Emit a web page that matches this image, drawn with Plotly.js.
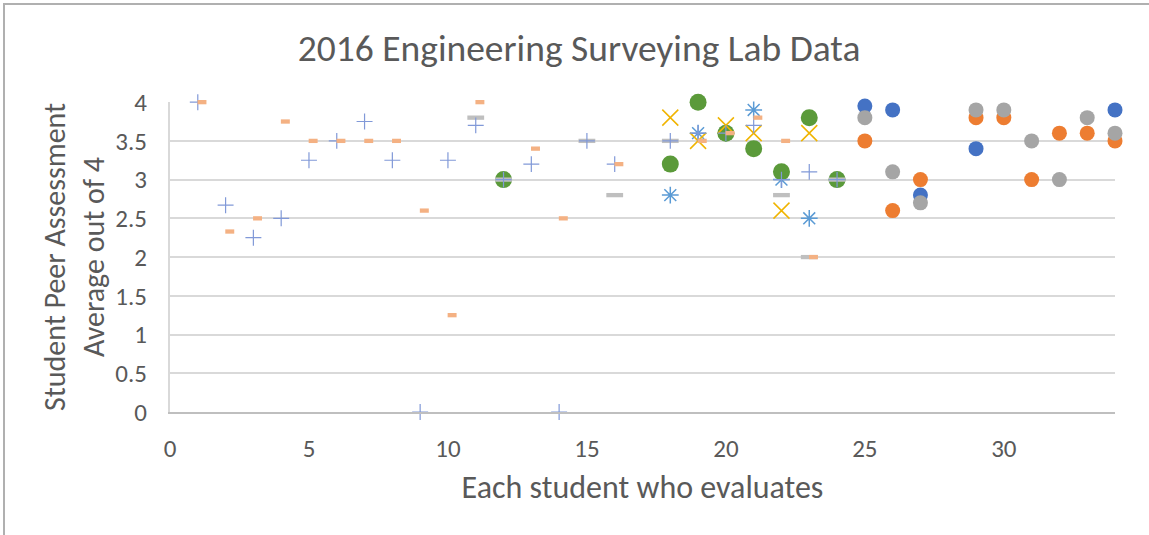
<!DOCTYPE html>
<html>
<head>
<meta charset="utf-8">
<script src="https://cdn.plot.ly/plotly-3.0.1.min.js"></script>
<style>
  html, body { margin: 0; padding: 0; background: #ffffff; }
  #wrap { position: relative; width: 1149px; height: 535px; overflow: hidden; }
  #chart { position: absolute; left: 0; top: 0; width: 1149px; height: 535px; }
  #frame { position: absolute; left: 3px; top: 3px; width: 1150px; height: 540px;
           border-top: 2px solid #B0B0B0; border-left: 2px solid #B0B0B0; pointer-events: none; }
</style>
</head>
<body>
<div id="wrap"><div id="chart"></div><div id="frame"></div></div>
<script>
// ---- data ----
const plusX = [1,2,3,4,5,6,7,8,9,10,11,12,13,14,15,16,18,19,20,21,22,23,24];
const plusY = [4,2.67,2.25,2.5,3.25,3.5,3.75,3.25,0,3.25,3.7,3,3.2,0,3.5,3.2,3.5,3.6,3.6,3.7,3.0,3.1,3.0];

const salmonX = [1.15,2.15,3.15,4.15,5.15,6.15,7.15,8.15,9.15,10.15,11.15,13.15,14.15,16.15,19.15,20.15,21.15,22.15,23.15];
const salmonY = [4,2.33,2.5,3.75,3.5,3.5,3.5,3.5,2.6,1.25,4,3.4,2.5,3.2,3.5,3.6,3.8,3.5,2.0];

const grayDashX = [11,12,15,16,18,22,23,24];
const grayDashY = [3.8,3.0,3.5,2.8,3.5,2.8,2.0,3.0];

const greenX = [12,18,19,20,21,22,23,24];
const greenY = [3.0,3.2,4.0,3.6,3.4,3.1,3.8,3.0];

const goldX = [18,19,20,21,22,23];
const goldY = [3.8,3.5,3.7,3.6,2.6,3.6];

const starX = [18,19,20,21,22,23,24];
const starY = [2.8,3.6,3.6,3.9,3.0,2.5,3.0];

const blueX = [25,26,27,29,34];
const blueY = [3.95,3.9,2.8,3.4,3.9];

const orangeX = [25,26,27,29,30,31,32,33,34];
const orangeY = [3.5,2.6,3.0,3.8,3.8,3.0,3.6,3.6,3.5];

const greyX = [25,26,27,29,30,31,32,33,34];
const greyY = [3.8,3.1,2.7,3.9,3.9,3.5,3.0,3.8,3.6];

const xTicks = [0,5,10,15,20,25,30];
const yTicks = [0,0.5,1,1.5,2,2.5,3,3.5,4];

const FONT = "Carlito, 'Liberation Sans Narrow', 'Open Sans', sans-serif";
const TXT = '#595959';

function sc(x, y, symbol, color, size, lw) {
  return { type: 'scatter', mode: 'markers', x: x, y: y, cliponaxis: false,
    marker: { symbol: symbol, color: color, size: size, line: { width: lw || 0, color: color } },
    hoverinfo: 'x+y', showlegend: false };
}

const traces = [
  sc(starX, starY, 'asterisk-open', '#5B9BD5', 14, 1.5),
  sc(greenX, greenY, 'circle', '#5B9A3A', 17, 0),
  sc(goldX, goldY, 'x-thin-open', '#F0B400', 16, 1.5),
  sc(grayDashX, grayDashY, 'line-ew-open', '#BFBFBF', 12, 4.3),
  sc(plusX, plusY, 'cross-thin-open', '#8199D8', 11.4, 1.2),
  sc(salmonX, salmonY, 'line-ew-open', '#F4B183', 6.4, 4.3),
  sc(blueX, blueY, 'circle', '#4472C4', 15, 0),
  sc(orangeX, orangeY, 'circle', '#ED7D31', 15, 0),
  sc(greyX, greyY, 'circle', '#A5A5A5', 15, 0)
];

const layout = {
  width: 1149, height: 535,
  margin: { l: 170, r: 34, t: 102, b: 123 },
  paper_bgcolor: 'rgba(0,0,0,0)', plot_bgcolor: 'rgba(0,0,0,0)',
  font: { family: FONT, color: TXT },
  title: { text: '2016 Engineering Surveying Lab Data', font: { family: FONT, size: 37.5, color: TXT },
           xref: 'container', x: 0.504, xanchor: 'center', yref: 'container', y: 1 - 48/535, yanchor: 'middle' },
  xaxis: {
    range: [0, 34], tickvals: xTicks, ticktext: xTicks.map(String),
    showgrid: false, zeroline: false, showline: true, linecolor: '#BFBFBF', linewidth: 2,
    ticks: 'outside', ticklen: 13, tickcolor: 'rgba(0,0,0,0)',
    tickfont: { family: FONT, size: 25, color: TXT },
    title: { text: 'Each student who evaluates', font: { family: FONT, size: 32, color: TXT }, standoff: 13 }
  },
  yaxis: {
    range: [0, 4.002], tickvals: yTicks, ticktext: yTicks.map(String),
    showgrid: true, gridcolor: '#D9D9D9', gridwidth: 2,
    zeroline: false, showline: true, linecolor: '#D9D9D9', linewidth: 2,
    ticks: 'outside', ticklen: 16, tickcolor: 'rgba(0,0,0,0)',
    tickfont: { family: FONT, size: 25, color: TXT },
    title: { text: 'Student Peer Assessment<br>Average out of 4', font: { family: FONT, size: 30, color: TXT }, standoff: 2 }
  }
};

Plotly.newPlot('chart', traces, layout, { displayModeBar: false, staticPlot: true });
</script>
</body>
</html>
